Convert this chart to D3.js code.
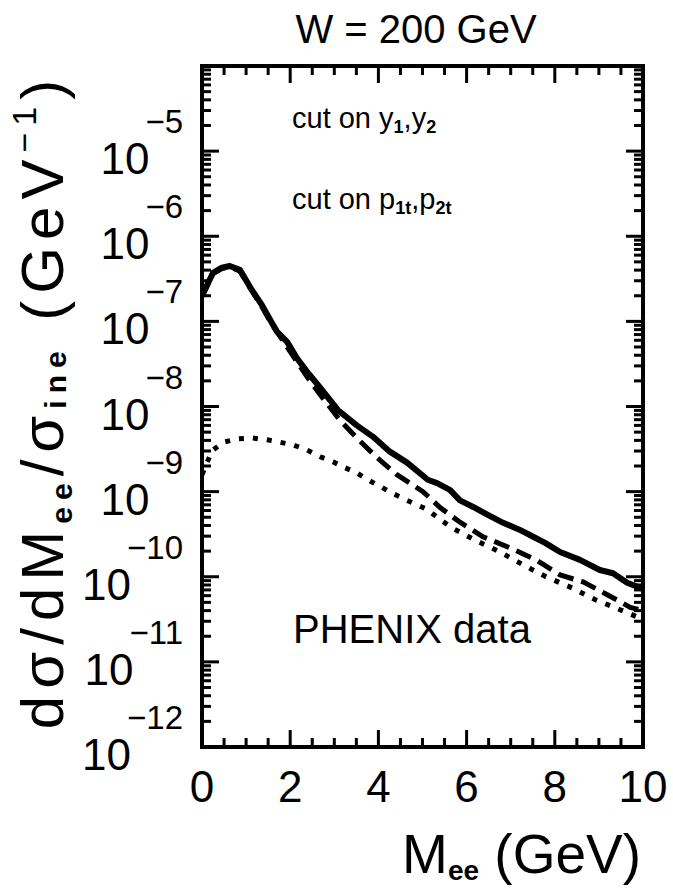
<!DOCTYPE html>
<html><head><meta charset="utf-8">
<script src="https://cdn.jsdelivr.net/npm/d3@7"></script>
<style>
body{margin:0;background:#fff}
svg{display:block}
text{font-family:"Liberation Sans",Arial,Helvetica,sans-serif;fill:#000}
</style>
</head><body>
<svg id="chart" width="673" height="892"></svg>
<script>
// ---- data ----
const massSolid = [0.00,0.25,0.45,0.63,0.86,1.13,1.36,1.59,1.70,1.93,2.15,2.38,2.68,3.08,3.51,3.88,4.26,4.65,5.12,5.33,5.62,5.85,6.15,6.46,6.83,7.21,7.51,7.78,8.12,8.57,9.02,9.32,9.64,10.0];
const valSolid  = [2.00e-7,3.72e-7,4.27e-7,4.47e-7,4.03e-7,2.34e-7,1.55e-7,9.5e-8,7.6e-8,5.75e-8,3.72e-8,2.57e-8,1.66e-8,9.1e-9,6.0e-9,4.4e-9,2.95e-9,2.19e-9,1.38e-9,1.26e-9,1.05e-9,7.9e-10,6.6e-10,5.4e-10,4.3e-10,3.55e-10,2.95e-10,2.5e-10,1.95e-10,1.58e-10,1.2e-10,1.1e-10,8.5e-11,7.2e-11];

const massDashed = [0.00,0.25,0.45,0.63,0.86,1.13,1.36,1.59,1.93,2.38,2.72,3.13,3.51,3.97,4.42,5.01,5.40,5.85,6.37,6.98,7.60,8.12,8.64,9.18,9.71,10.0];
const valDashed  = [1.95e-7,3.63e-7,4.17e-7,4.37e-7,3.89e-7,2.29e-7,1.48e-7,9.1e-8,5.0e-8,2.24e-8,1.29e-8,6.9e-9,4.27e-9,2.51e-9,1.58e-9,1.0e-9,6.5e-10,4.37e-10,2.95e-10,2.19e-10,1.55e-10,1.05e-10,8.7e-11,6.2e-11,4.37e-11,4.0e-11];

const massDotted = [0.00,0.11,0.25,0.48,0.82,1.13,1.47,1.77,2.06,2.38,2.68,2.97,3.20,3.51,3.76,4.04,4.33,4.65,5.10,5.40,5.69,6.19,6.76,7.28,7.80,8.39,8.91,9.48,10.0];
const valDotted  = [1.58e-9,2.19e-9,3.09e-9,3.8e-9,4.17e-9,4.27e-9,4.07e-9,3.8e-9,3.55e-9,3.09e-9,2.57e-9,2.24e-9,1.95e-9,1.66e-9,1.38e-9,1.15e-9,9.5e-10,7.9e-10,6.2e-10,4.7e-10,3.7e-10,2.7e-10,1.95e-10,1.38e-10,1.0e-10,7.4e-11,5.4e-11,4.1e-11,3.16e-11];

const xMajorTicks = [0,2,4,6,8,10];
const xMinorTicks = [0.5,1,1.5,2.5,3,3.5,4.5,5,5.5,6.5,7,7.5,8.5,9,9.5];
const yDecadeExps = [-12,-11,-10,-9,-8,-7,-6,-5];

const titleText = "W = 200 GeV";
const legend1 = ["cut on y", "1", ",y", "2"];
const legend2 = ["cut on p", "1t", ",p", "2t"];
const dataLabel = "PHENIX data";

// ---- layout ----
const L = 202, R = 643, T = 66, B = 747;
const svg = d3.select("#chart");
const x = d3.scaleLinear().domain([0,10]).range([L,R]);
const y = d3.scaleLog().domain([1e-12,1e-4]).range([B,T]);

const yMajor = yDecadeExps.map(e => Math.pow(10,e));
const yMinor = [];
yDecadeExps.forEach(e => { for (let k=2;k<=9;k++) yMinor.push(k*Math.pow(10,e)); });

const MAJ = 17, MIN = 9, TW = 3;
const ticks = svg.append("g").attr("fill","#000");
function hTicks(vals,len){
  vals.forEach(v=>{
    const yy = y(v);
    ticks.append("rect").attr("x",L).attr("width",len).attr("y",yy-TW/2).attr("height",TW);
    ticks.append("rect").attr("x",R-len).attr("width",len).attr("y",yy-TW/2).attr("height",TW);
  });
}
function vTicks(vals,len){
  vals.forEach(v=>{
    const xx = x(v);
    ticks.append("rect").attr("x",xx-TW/2).attr("width",TW).attr("y",B-len).attr("height",len);
    ticks.append("rect").attr("x",xx-TW/2).attr("width",TW).attr("y",T).attr("height",len);
  });
}
hTicks(yMajor.slice(1),MAJ);
hTicks(yMinor,MIN);
vTicks(xMajorTicks.slice(1,-1),MAJ);
vTicks(xMinorTicks,MIN);

// clip
svg.append("clipPath").attr("id","clip").append("rect").attr("x",L).attr("y",T).attr("width",R-L).attr("height",B-T);

const line = d3.line().x(d=>x(d[0])).y(d=>y(d[1])).curve(d3.curveLinear);
const zip = (a,b) => a.map((v,i)=>[v,b[i]]);
const plot = svg.append("g").attr("clip-path","url(#clip)");
plot.append("path").datum(zip(massDotted,valDotted)).attr("d",line)
  .attr("fill","none").attr("stroke","#000").attr("stroke-width",5).attr("stroke-dasharray","5,9");
plot.append("path").datum(zip(massDashed,valDashed)).attr("d",line)
  .attr("fill","none").attr("stroke","#000").attr("stroke-width",5).attr("stroke-dasharray","16,8");
plot.append("path").datum(zip(massSolid,valSolid)).attr("d",line)
  .attr("fill","none").attr("stroke","#000").attr("stroke-width",6).attr("stroke-linejoin","round");

// frame
svg.append("rect").attr("x",L).attr("y",T).attr("width",R-L).attr("height",B-T)
  .attr("fill","none").attr("stroke","#000").attr("stroke-width",4);

// x tick labels
svg.append("g").selectAll("text").data(xMajorTicks).join("text")
  .attr("x",d=>x(d)).attr("y",802).attr("text-anchor","middle")
  .style("font-size","44px").text(d=>d);

// y tick labels
yDecadeExps.forEach(e=>{
  const t = svg.append("text").attr("x",183).attr("y",y(Math.pow(10,e))+23).attr("text-anchor","end").style("font-size","44px");
  t.append("tspan").text("10");
  t.append("tspan").attr("dx",-4).attr("dy",-41).style("font-size","33px").text("\u2212"+Math.abs(e));
});

// title
svg.append("text").attr("x",416).attr("y",43).attr("text-anchor","middle").style("font-size","40px").text(titleText);

// legend texts
function subText(xp,yp,parts){
  const t = svg.append("text").attr("x",xp).attr("y",yp).style("font-size","29px");
  t.append("tspan").text(parts[0]);
  t.append("tspan").attr("dy",5).style("font-size","18px").style("font-weight","bold").text(parts[1]);
  t.append("tspan").attr("dy",-5).text(parts[2]);
  t.append("tspan").attr("dy",5).style("font-size","18px").style("font-weight","bold").text(parts[3]);
}
subText(292,128,legend1);
subText(292,209,legend2);

svg.append("text").attr("x",293).attr("y",643).style("font-size","40px").text(dataLabel);

// x axis title
const xt = svg.append("text").attr("x",641).attr("y",873).attr("text-anchor","end").style("font-size","55px");
xt.append("tspan").text("M");
xt.append("tspan").attr("dy",7).style("font-size","28px").style("font-weight","bold").text("ee");
xt.append("tspan").attr("dy",-7).text(" (GeV)");

// y axis title
const yl = svg.append("text").attr("transform","translate(63,401) rotate(-90)")
  .attr("text-anchor","middle").style("font-size","60px").style("letter-spacing","7px");
yl.append("tspan").text("d\u03C3/dM");
yl.append("tspan").attr("dy",9).style("font-size","30px").style("font-weight","bold").text("ee");
yl.append("tspan").attr("dy",-9).text("/\u03C3");
yl.append("tspan").attr("dy",3).style("font-size","30px").style("font-weight","bold").text("ine");
yl.append("tspan").attr("dy",-3).text(" (GeV");
yl.append("tspan").attr("dy",-27).style("font-size","34px").text("\u22121");
yl.append("tspan").attr("dy",27).text(")");
</script>
</body></html>
